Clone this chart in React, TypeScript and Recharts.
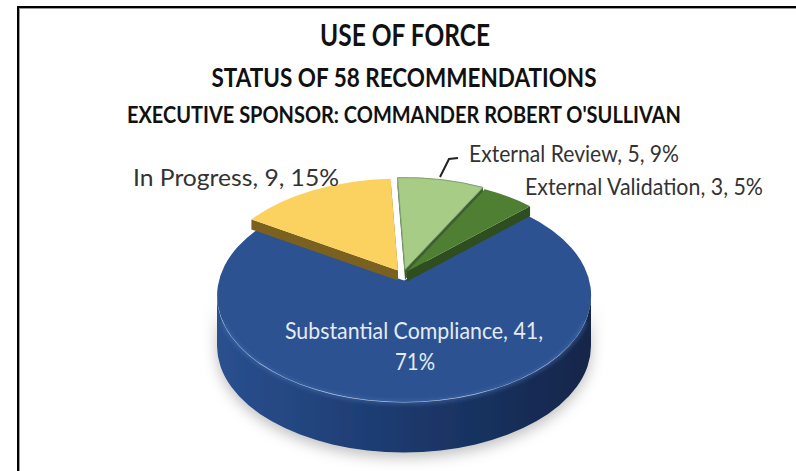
import { Pie, PieChart } from "recharts";

const categories = ["Substantial Compliance", "In Progress", "External Review", "External Validation"];
const counts = [41, 9, 5, 3];
const percentLabels = ["71%", "15%", "9%", "5%"];
const topColors = ["#2C5291", "#FBD25F", "#A6CC86", "#4F7F33"];
const wallColors = ["url(#blueWall)", "#7A6120", "#3F5F33", "#2F4E20"];

const W = 796;
const H = 471;
const RY = 106.5;
const VERTEX_LIFT = 15.5; // perspective: the pie's centre sits above the ellipse's centre
const PERSPECTIVE = 0.146;
const BODY_DEPTH = 50;
const LIFT_DEPTH = 10;
// exploded slices sit a bit up from the body
const explode = [
  [0, 0],
  [-6, -10],
  [1, -11],
  [3, -9],
];

const chartData = categories.map((name, i) => ({
  name,
  value: counts[i],
  fill: topColors[i],
}));

const rad = (deg: number) => (deg * Math.PI) / 180;

const SliceShape = (props: any) => {
  const { cx, cy, outerRadius, startAngle, endAngle, fill, index } = props;
  const rx = outerRadius;
  const [dx, dy] = explode[index];
  const x0 = cx + dx;
  const y0 = cy + dy;
  const vx = x0;
  const vy = y0 - VERTEX_LIFT;
  // circle seen in perspective, stays an ellipse so the arc below still fits
  const A = RY * Math.sqrt(1 - PERSPECTIVE * PERSPECTIVE) * 1.0;
  const R = rx * Math.sqrt(1 - PERSPECTIVE * PERSPECTIVE);
  const pt = (deg: number) => {
    const s = Math.sin(rad(deg));
    const c = Math.cos(rad(deg));
    const den = 1 + PERSPECTIVE * s;
    return [vx + (R * c) / den, vy - (A * s) / den];
  };
  const [sx, sy] = pt(startAngle);
  const [ex, ey] = pt(endAngle);
  const large = Math.abs(startAngle - endAngle) > 180 ? 1 : 0;
  const top = `M${vx},${vy} L${sx},${sy} A${rx},${RY} 0 ${large} 1 ${ex},${ey} Z`;

  if (index === 0) {
    // the front rim runs from the right extreme to the left extreme
    const wall = `M${x0 + rx},${y0} A${rx},${RY} 0 0 1 ${x0 - rx},${y0} L${x0 - rx},${y0 + BODY_DEPTH} A${rx},${RY} 0 0 0 ${x0 + rx},${y0 + BODY_DEPTH} Z`;
    const rimX = rx * Math.cos(rad(14));
    const rimY = y0 + RY * Math.sin(rad(14));
    const rim = `M${x0 + rimX},${rimY} A${rx},${RY} 0 0 1 ${x0 - rimX},${rimY}`;
    return (
      <g>
        <path d={wall} fill={wallColors[0]} filter="url(#bodyShadow)" />
        <path d={top} fill={fill} />
        <path d={rim} fill="none" stroke="#4A72B4" strokeWidth={3} filter="url(#soft)" opacity={0.7} />
      </g>
    );
  }

  const d = LIFT_DEPTH;
  const wallA = `M${sx},${sy} L${vx},${vy} L${vx},${vy + d} L${sx},${sy + d} Z`;
  const wallB = `M${ex},${ey} L${vx},${vy} L${vx},${vy + d} L${ex},${ey + d} Z`;
  return (
    <g>
      <path d={wallA} fill={wallColors[index]} />
      <path d={wallB} fill={wallColors[index]} />
      <path d={top} fill={fill} stroke={index === 2 ? "#7F9F6F" : "none"} strokeWidth={index === 2 ? 1 : 0} />
    </g>
  );
};

const labelAnchors = [
  { x: 414, y: 339, width: 258 },
  { x: 236, y: 186, width: 206 },
  { x: 574, y: 162, width: 210 },
  { x: 644, y: 195, width: 238 },
];

const labelFont = { fontFamily: "Lato, 'Open Sans', sans-serif", fontSize: 24 };

const DataLabel = (props: any) => {
  const { index, name, value } = props;
  const a = labelAnchors[index];
  if (index === 0) {
    return (
      <g>
        <text x={a.x} y={a.y} textAnchor="middle" fill="#E4EBF5" textLength={a.width} lengthAdjust="spacingAndGlyphs" {...labelFont}>
          {`${name}, ${value},`}
        </text>
        <text x={a.x + 1} y={a.y + 31} textAnchor="middle" fill="#E4EBF5" textLength={40} lengthAdjust="spacingAndGlyphs" {...labelFont}>
          {percentLabels[index]}
        </text>
      </g>
    );
  }
  return (
    <g>
      {index === 2 && <path d="M440,177 L449,159 L458,158" fill="none" stroke="#222" strokeWidth={2} />}
      <text x={a.x} y={a.y} textAnchor="middle" fill="#333" textLength={a.width} lengthAdjust="spacingAndGlyphs" {...labelFont}>
        {`${name}, ${value}, ${percentLabels[index]}`}
      </text>
    </g>
  );
};

const titleFont = { fontFamily: "Lato, 'Open Sans', sans-serif", fontWeight: 700, fill: "#111", textAnchor: "middle" as const, lengthAdjust: "spacingAndGlyphs" };

const App = () => (
  <div style={{ position: "absolute", left: 0, top: 0, width: W, height: H, background: "#fff", overflow: "hidden" }}>
    <div
      style={{
        position: "absolute",
        left: 17,
        top: 6,
        width: W - 17,
        height: H - 6,
        boxSizing: "border-box",
        borderTop: "2px solid #000",
        borderLeft: "2px solid #000",
        boxShadow: "inset 1px 1px 0 #999",
      }}
    />
    <div style={{ position: "absolute", left: 0, top: 0 }}>
      <PieChart width={W} height={H} margin={{ top: 0, right: 0, bottom: 0, left: 0 }}>
        <defs>
          <linearGradient id="blueWall" x1="0" y1="0" x2="1" y2="0">
            <stop offset="0" stopColor="#2A508F" />
            <stop offset="0.45" stopColor="#1D3B70" />
            <stop offset="1" stopColor="#13264A" />
          </linearGradient>
          <filter id="bodyShadow" x="-10%" y="-10%" width="120%" height="130%">
            <feDropShadow dx={0} dy={5} stdDeviation={7} floodColor="#000" floodOpacity={0.25} />
          </filter>
          <filter id="soft" x="-10%" y="-10%" width="120%" height="130%">
            <feGaussianBlur stdDeviation={2} />
          </filter>
        </defs>
        <text x={405} y={46} fontSize={31} textLength={170} {...titleFont}>USE OF FORCE</text>
        <text x={404} y={87} fontSize={26} textLength={385} {...titleFont}>STATUS OF 58 RECOMMENDATIONS</text>
        <text x={404} y={123} fontSize={23} textLength={554} {...titleFont}>EXECUTIVE SPONSOR: COMMANDER ROBERT O'SULLIVAN</text>
        <Pie
          data={chartData}
          dataKey="value"
          nameKey="name"
          cx={404}
          cy={296}
          innerRadius={0}
          outerRadius={187}
          startAngle={43}
          endAngle={-317}
          stroke="none"
          isAnimationActive={false}
          shape={SliceShape}
          inactiveShape={SliceShape}
          activeShape={SliceShape}
          label={DataLabel}
          labelLine={false}
        />
      </PieChart>
    </div>
  </div>
);

export default App;
